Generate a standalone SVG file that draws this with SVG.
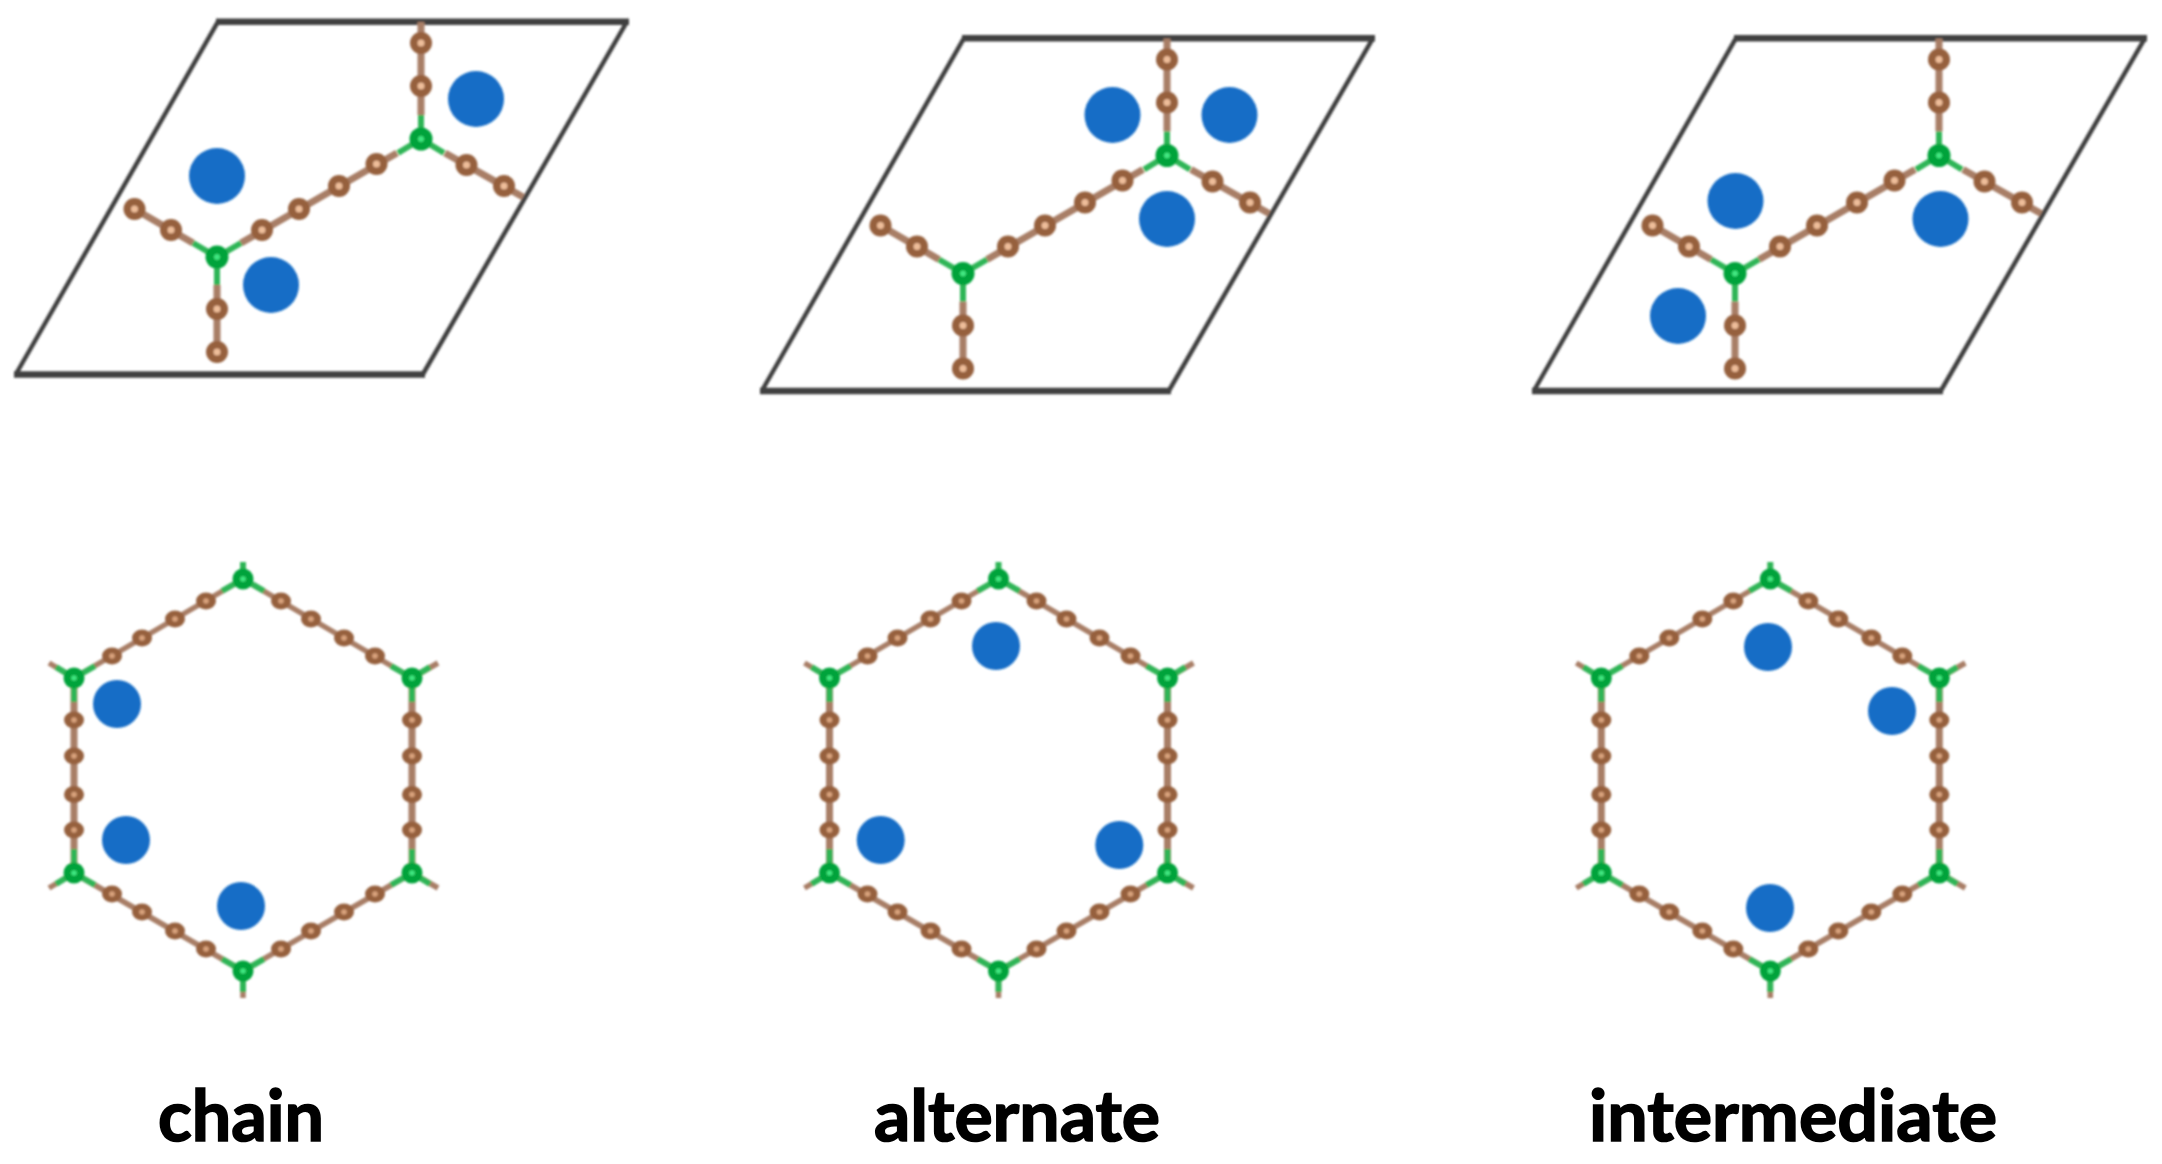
<svg xmlns="http://www.w3.org/2000/svg" width="2162" height="1164" viewBox="0 0 2162 1164">
<style>
.frame{fill:none;stroke:#404040;stroke-width:4.5;stroke-linejoin:miter}
.edge{fill:none;stroke:#404040;stroke-width:6.5}
.bond{fill:none;stroke:#a87e66;stroke-width:7}
.gbond{fill:none;stroke:#2fb556;stroke-width:6}
.hbond{fill:none;stroke:#a87e66;stroke-width:5.5}
.hv{fill:none;stroke:#a87e66;stroke-width:7}
.ring{fill:#96603e}
.core{fill:#eebd9a}
.hcore{fill:#d8a27c}
.gring{fill:#00a33a}
.gcore{fill:#3fe680}
.ion{fill:#156dc6}
.label{font-family:Lato,"Liberation Sans",sans-serif;font-weight:700;font-size:70px;fill:#000;stroke:#000;stroke-width:1.6}
</style>
<defs>
<filter id="soft" x="-5%" y="-5%" width="110%" height="110%"><feGaussianBlur stdDeviation="0.8"/></filter>
<filter id="softer" x="-5%" y="-5%" width="110%" height="110%"><feGaussianBlur stdDeviation="0.5"/></filter>
<g id="c"><circle r="11" class="ring"/><circle r="3.5" class="core"/></g>
<g id="hc"><ellipse rx="10" ry="8.500" class="ring"/><circle r="2.800" class="hcore"/></g>
<g id="n"><circle r="11.500" class="gring"/><circle r="3" class="gcore"/></g>
<g id="hn"><circle r="10.500" class="gring"/><circle r="2.800" class="gcore"/></g>
<g id="cell">
<path class="frame" d="M218 21.700L16 374M627 21.700L423 374"/>
<path class="edge" d="M216 21.700H629M14 374.500H425"/>
<path class="bond" d="M421 22V115M445 153L523 197M397 153L241 243M193 243L134.500 209M217 285V352"/>
<path class="gbond" d="M421 139V115M421 139L444 153M421 139L398 153M217 257L241 243M217 257L193 243M217 257V285"/>
<use href="#c" x="421" y="43"/><use href="#c" x="421" y="86"/>
<use href="#c" x="466.500" y="165"/><use href="#c" x="504" y="186"/>
<use href="#c" x="376.500" y="164"/><use href="#c" x="339" y="186"/><use href="#c" x="299" y="209"/><use href="#c" x="262" y="230"/>
<use href="#c" x="171" y="230"/><use href="#c" x="134.500" y="209"/>
<use href="#c" x="217" y="309"/><use href="#c" x="217" y="352"/>
<use href="#n" x="421" y="139"/><use href="#n" x="217" y="257"/>
</g>
<g id="hex">
<path class="hbond" d="M243 579L74 678M243 579L412 678M243 971L74 873M243 971L412 873M49 663L74 678M438 663L412 678M49 888L74 873M438 888L412 873M243 971V998"/>
<path class="hv" d="M74 678V873M412 678V873"/>
<path class="gbond" d="M243 579V562M243 579L222 591M243 579L264 591M243 971L222 959M243 971L264 959M243 971V992M74 678L95 666M74 678L56 667M74 678V702M412 678L391 666M412 678L430 667M412 678V702M74 873L95 885M74 873L56 884M74 873V849M412 873L391 885M412 873L430 884M412 873V849"/>
<use href="#hc" x="112" y="656"/><use href="#hc" x="142" y="638"/><use href="#hc" x="175" y="619"/><use href="#hc" x="206" y="601"/>
<use href="#hc" x="281" y="601"/><use href="#hc" x="311" y="619"/><use href="#hc" x="344" y="638"/><use href="#hc" x="375" y="656"/>
<use href="#hc" x="74" y="720"/><use href="#hc" x="74" y="756"/><use href="#hc" x="74" y="794.500"/><use href="#hc" x="74" y="830"/>
<use href="#hc" x="412" y="720"/><use href="#hc" x="412" y="756"/><use href="#hc" x="412" y="794.500"/><use href="#hc" x="412" y="830"/>
<use href="#hc" x="112" y="894"/><use href="#hc" x="142" y="912"/><use href="#hc" x="175" y="931"/><use href="#hc" x="206" y="949"/>
<use href="#hc" x="281" y="949"/><use href="#hc" x="311" y="931"/><use href="#hc" x="344" y="912"/><use href="#hc" x="375" y="894"/>
<use href="#hn" x="243" y="579"/><use href="#hn" x="243" y="971"/><use href="#hn" x="74" y="678"/><use href="#hn" x="412" y="678"/><use href="#hn" x="74" y="873"/><use href="#hn" x="412" y="873"/>
</g>
</defs>
<rect width="2162" height="1164" fill="#fff"/>
<g id="cell-chain" filter="url(#soft)"><use href="#cell"/>
<circle class="ion" cx="476" cy="99" r="28"/><circle class="ion" cx="217" cy="176" r="28"/><circle class="ion" cx="271" cy="285" r="28"/></g>
<g id="cell-alternate" filter="url(#soft)"><use href="#cell" transform="translate(746 16.500)"/>
<circle class="ion" cx="1112.500" cy="115" r="28"/><circle class="ion" cx="1229.500" cy="115" r="28"/><circle class="ion" cx="1167" cy="219" r="28"/></g>
<g id="cell-intermediate" filter="url(#soft)"><use href="#cell" transform="translate(1518 16.500)"/>
<circle class="ion" cx="1735.500" cy="201" r="28"/><circle class="ion" cx="1940.500" cy="219" r="28"/><circle class="ion" cx="1678" cy="316" r="28"/></g>
<g id="hex-chain" filter="url(#soft)"><use href="#hex"/>
<circle class="ion" cx="117" cy="704" r="24"/><circle class="ion" cx="126" cy="840" r="24"/><circle class="ion" cx="241" cy="906" r="24"/></g>
<g id="hex-alternate" filter="url(#soft)"><use href="#hex" transform="translate(755.500 0)"/>
<circle class="ion" cx="996" cy="646" r="24"/><circle class="ion" cx="880.700" cy="840" r="24"/><circle class="ion" cx="1119.300" cy="845" r="24"/></g>
<g id="hex-intermediate" filter="url(#soft)"><use href="#hex" transform="translate(1527.300 0)"/>
<circle class="ion" cx="1768" cy="647" r="24"/><circle class="ion" cx="1892" cy="711" r="24"/><circle class="ion" cx="1770" cy="908" r="24"/></g>
<g id="labels" filter="url(#softer)">
<text class="label" x="158" y="1141" textLength="166" lengthAdjust="spacingAndGlyphs">chain</text>
<text class="label" x="874" y="1141" textLength="286" lengthAdjust="spacingAndGlyphs">alternate</text>
<text class="label" x="1589" y="1141" textLength="408" lengthAdjust="spacingAndGlyphs">intermediate</text>
</g>
</svg>
